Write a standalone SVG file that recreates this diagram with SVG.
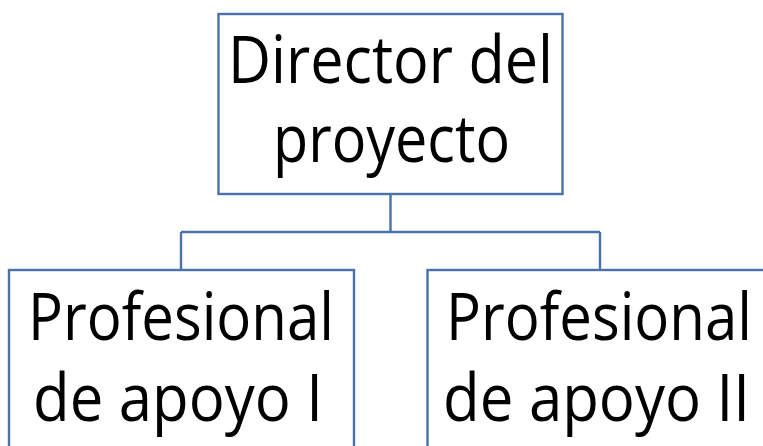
<svg xmlns="http://www.w3.org/2000/svg" width="763" height="446" viewBox="0 0 763 446">
<style>
.box{fill:#ffffff;stroke:#4B72AA;stroke-width:2.4}
.conn{fill:none;stroke:#4B72AA;stroke-width:2.4}
.lbl{font-family:"Open Sans","Liberation Sans",sans-serif;font-size:65px;font-weight:500;fill:#000000}
</style>
<rect width="763" height="446" fill="#ffffff"/>
<g id="connectors">
<path class="conn" d="M390.5 194 V232 M181 232 H600 M181 232 V270 M600 232 V270"/>
</g>
<g id="director">
<rect class="box" x="218.5" y="14" width="344" height="180"/>
<text class="lbl" x="228" y="83" textLength="325" lengthAdjust="spacingAndGlyphs">Director del</text>
<text class="lbl" x="273" y="162" textLength="237" lengthAdjust="spacingAndGlyphs">proyecto</text>
</g>
<g id="apoyo1">
<rect class="box" x="9" y="270" width="345" height="200"/>
<text class="lbl" x="28" y="340" textLength="306" lengthAdjust="spacingAndGlyphs">Profesional</text>
<text class="lbl" x="33" y="421" textLength="290" lengthAdjust="spacingAndGlyphs">de apoyo I</text>
</g>
<g id="apoyo2">
<rect class="box" x="427.5" y="270" width="345" height="200"/>
<text class="lbl" x="446" y="340" textLength="306" lengthAdjust="spacingAndGlyphs">Profesional</text>
<text class="lbl" x="443" y="421" textLength="307" lengthAdjust="spacingAndGlyphs">de apoyo II</text>
</g>
</svg>
